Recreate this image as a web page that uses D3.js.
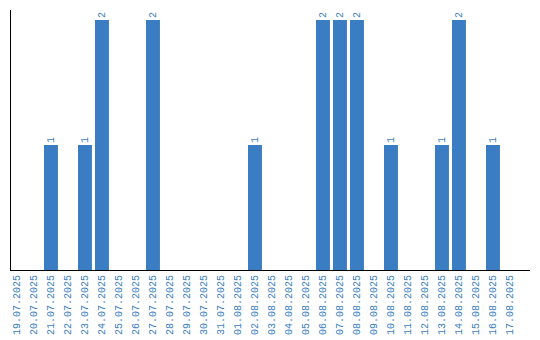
<!DOCTYPE html>
<html><head><meta charset="utf-8">
<script src="https://cdn.jsdelivr.net/npm/d3@7"></script>
<style>body{margin:0;background:#fff}svg{display:block}</style>
</head><body><svg id="c" width="540" height="340"></svg>
<script>
const dates = ["19.07.2025","20.07.2025","21.07.2025","22.07.2025","23.07.2025","24.07.2025","25.07.2025","26.07.2025","27.07.2025","28.07.2025","29.07.2025","30.07.2025","31.07.2025","01.08.2025","02.08.2025","03.08.2025","04.08.2025","05.08.2025","06.08.2025","07.08.2025","08.08.2025","09.08.2025","10.08.2025","11.08.2025","12.08.2025","13.08.2025","14.08.2025","15.08.2025","16.08.2025","17.08.2025"];
const counts = [0,0,1,0,1,2,0,0,2,0,0,0,0,0,1,0,0,0,2,2,2,0,1,0,0,1,2,0,1,0];

const svg = d3.select("#c");
const color = "#3a7dc2";
const x = d3.scaleBand().domain(dates).range([10, 10 + 17*30 - 17*0.18]).paddingInner(0.18).paddingOuter(0).align(0);
const y = d3.scaleLinear().domain([0, 2]).range([270, 20]);

const data = dates.map((d,i)=>({d, v: counts[i]}));
svg.selectAll("rect.bar").data(data.filter(e=>e.v>0)).enter().append("rect")
  .attr("x", e=>x(e.d)).attr("width", x.bandwidth())
  .attr("y", e=>y(e.v)).attr("height", e=>y(0)-y(e.v)).attr("fill", color);

svg.selectAll("text.val").data(data.filter(e=>e.v>0)).enter().append("text")
  .attr("transform", e=>`translate(${x(e.d)+x.bandwidth()/2+3.5},${y(e.v)-2}) rotate(-90)`)
  .attr("font-family","Liberation Mono, monospace").attr("font-size",10).attr("fill",color)
  .text(e=>e.v);

const xa = svg.append("g").attr("transform","translate(0,270)")
  .call(d3.axisBottom(x).tickSize(0).tickPadding(0));
xa.select(".domain").remove();
xa.selectAll("text").attr("font-family","Liberation Mono, monospace").attr("font-size",10).attr("fill",color)
  .attr("text-anchor","end").attr("dy",null).attr("y",0).attr("x",0)
  .attr("transform","translate(3.5,5) rotate(-90)");

svg.append("line").attr("x1",10.5).attr("x2",10.5).attr("y1",10).attr("y2",270).attr("stroke","#000");
svg.append("line").attr("x1",10).attr("x2",530).attr("y1",270.5).attr("y2",270.5).attr("stroke","#000");
</script></body></html>
